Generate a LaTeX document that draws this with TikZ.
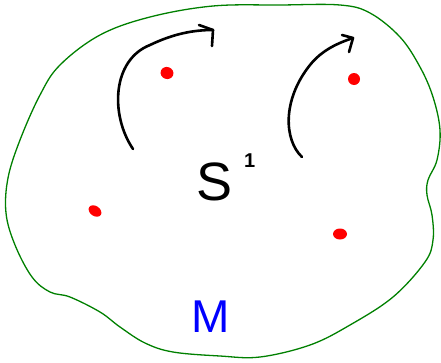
\documentclass[tikz,border=0pt]{standalone}
\usepackage{fontspec}
\newfontfamily\handfont{Liberation Sans}
\begin{document}
\begin{tikzpicture}[x=1pt,y=-1pt,
  blob/.style={draw={rgb,255:red,0;green,128;blue,0},line width=1.3pt},
  flowarrow/.style={draw=black,line width=2.6pt,line cap=round,line join=round},
  pt/.style={fill=red,draw=none}]
\useasboundingbox (0,0) rectangle (441,362);
% manifold outline
\draw[blob] plot[smooth cycle,tension=0.6] coordinates {
 (213,6) (150,17) (100,35) (60,65) (40,95) (20,140) (8,178) (6,213) (15,245)
 (32,277) (50,292) (70,297) (100,312) (120,327) (145,343) (173,352) (220,356)
 (260,357) (310,345) (350,325) (393,297) (425,262) (433,240) (432,215) (427,195)
 (428,180) (437,160) (440,130) (433,97) (420,67) (400,37) (370,13) (340,5) (280,5)};
% arrows
\coordinate (a1s) at (133,149);
\coordinate (a1t) at (213,30);
\draw[flowarrow] (a1s) .. controls (110,115) and (112,60) .. (150,45) .. controls (175,33) and (195,30) .. (a1t);
\draw[flowarrow] (199,25) -- (a1t) -- (212,46);
\coordinate (a2s) at (302,157);
\coordinate (a2t) at (353,38);
\draw[flowarrow] (a2s) .. controls (284,140) and (282,100) .. (310,65) .. controls (322,50) and (338,43) .. (a2t);
\draw[flowarrow] (342,35) -- (a2t) -- (349,52);
% points
\fill[pt,rotate around={-20:(167,73)}] (167,73) ellipse [x radius=6.5,y radius=6];
\fill[pt] (354,79) circle (6);
\fill[pt,rotate around={-35:(95,211)}] (95,211) ellipse [x radius=7,y radius=5];
\fill[pt] (340,234) ellipse [x radius=7,y radius=5.5];
% labels
\node[anchor=base west,inner sep=0,font=\handfont\fontsize{54}{54}\selectfont] (s1) at (196,200)
  {S\hspace{12pt}\raisebox{33pt}{\fontsize{20}{20}\selectfont\bfseries 1}};
\node[anchor=base,inner sep=0,text={rgb,255:red,0;green,0;blue,255},font=\handfont\fontsize{46}{46}\selectfont] (m) at (211,332) {M};
\end{tikzpicture}
\end{document}
